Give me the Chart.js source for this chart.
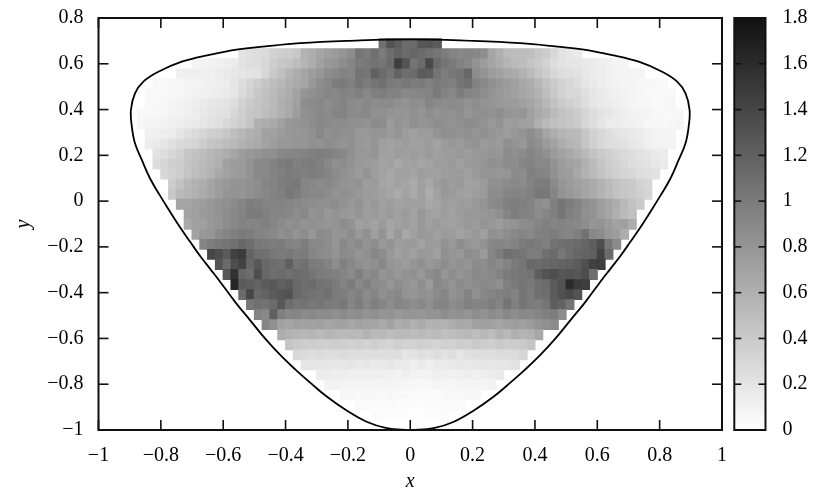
<!DOCTYPE html>
<html><head><meta charset="utf-8">
<style>html,body{margin:0;padding:0;background:#fff;overflow:hidden}
#wrap{position:relative;width:831px;height:496px}
canvas{position:absolute;top:0}</style>
<script src="https://cdn.jsdelivr.net/npm/chart.js@4"></script>
</head><body><div id="wrap"><canvas id="main" width="831" height="496" style="left:0"></canvas><canvas id="bar" width="106" height="496" style="left:725px"></canvas></div>
<script>
// First occupied column of each row (column i spans x = -1+0.025i .. -1+0.025(i+1)); rows run top to bottom.
const rowStarts=[36,18,12,10,7,6,6,5,5,6,6,7,7,8,9,9,10,11,11,12,13,14,15,16,17,18,19,20,21,23,24,25,26,28,29,31,33,35];
const r00=[1.08,1.30,1.22,1.12,1.12,1.28,1.28,1.24];
const r01=[.22,.24,.26,.28,.34,.36,.38,.42,.58,.62,.68,.72,.76,.80,.86,1.04,1.00,1.09,1.00,1.10,1.18,1.12,1.16,1.12,1.08,1.04,.98,.92,.90,.92,.90,.86,.68,.60,.52,.49,.50,.49,.42,.38,.30,.22,.18,.15];
const r02=[.08,.09,.10,.11,.13,.15,.22,.24,.26,.30,.38,.42,.45,.50,.56,.62,.71,.78,.80,.86,.92,1.00,1.02,1.06,1.04,1.12,1.46,1.30,1.05,1.12,1.38,1.12,1.05,1.00,.94,.90,.82,.76,.68,.62,.56,.52,.50,.45,.40,.34,.26,.22,.20,.19,.17,.15,.13,.11,.09,.08];
const r03=[.11,.11,.12,.11,.11,.14,.17,.18,.20,.21,.22,.30,.41,.48,.56,.62,.68,.74,.79,.86,.90,.94,.92,1.05,1.04,1.20,1.12,1.05,1.18,1.10,1.12,1.24,1.22,1.05,.98,1.02,1.05,1.14,.86,.82,.75,.70,.66,.64,.58,.52,.44,.38,.30,.26,.24,.22,.18,.15,.13,.11,.10,.09,.08,.08];
const r04=[.05,.05,.06,.07,.08,.09,.09,.11,.13,.14,.20,.26,.32,.38,.44,.49,.54,.60,.64,.68,.78,.86,.90,.98,1.00,.96,1.04,.98,1.04,1.08,1.00,.98,1.02,.98,1.00,.96,1.00,.98,.96,1.04,1.08,.94,.90,.84,.80,.76,.72,.66,.62,.54,.46,.40,.34,.30,.26,.20,.17,.13,.11,.10,.08,.08,.07,.06,.05,.05];
const r05=[.05,.05,.05,.06,.07,.08,.10,.11,.12,.14,.16,.20,.28,.34,.42,.48,.52,.58,.62,.70,.80,.84,.88,.92,.90,.94,.92,.96,.90,.96,.98,.94,.94,.90,.90,.92,.94,1.00,.94,.90,.98,.92,.90,.86,.82,.78,.74,.71,.68,.64,.58,.49,.42,.34,.30,.30,.24,.19,.16,.13,.11,.10,.08,.07,.05,.05,.05,.05];
const r06=[.05,.05,.07,.08,.10,.11,.13,.15,.18,.20,.22,.26,.34,.40,.45,.48,.52,.60,.64,.72,.86,.88,.90,.86,.90,.94,.88,.86,.90,.86,.88,.88,.84,.82,.86,.84,.92,.88,.86,.88,.86,.82,.86,.82,.80,.78,.76,.75,.72,.68,.62,.54,.46,.40,.36,.32,.26,.20,.17,.15,.12,.10,.08,.07,.06,.05,.05,.06];
const r07=[.05,.05,.06,.07,.09,.10,.12,.14,.17,.20,.22,.23,.30,.36,.42,.45,.50,.54,.60,.64,.74,.84,.86,.90,.88,.92,.94,.88,.88,.90,.84,.84,.80,.80,.80,.84,.80,.86,.82,.84,.84,.86,.80,.84,.85,.82,.86,.80,.78,.80,.72,.64,.60,.52,.46,.42,.38,.32,.26,.22,.19,.15,.12,.10,.09,.08,.06,.05,.05,.06];
const r08=[.07,.08,.09,.10,.11,.13,.15,.17,.19,.22,.24,.30,.34,.38,.44,.60,.62,.64,.72,.79,.80,.82,.86,.90,.88,.86,.86,.84,.84,.82,.88,.86,.76,.82,.78,.84,.80,.82,.86,.84,.82,.84,.86,.86,.82,.78,.82,.74,.75,.72,.71,.60,.52,.48,.45,.42,.40,.32,.26,.20,.15,.14,.12,.11,.10,.07,.06,.06,.07,.08];
const r09=[.11,.11,.13,.15,.20,.24,.27,.32,.36,.38,.42,.49,.54,.60,.62,.71,.72,.75,.78,.79,.80,.84,.90,.84,.86,.84,.84,.78,.78,.80,.80,.76,.80,.74,.72,.76,.74,.80,.84,.84,.82,.84,.80,.84,.80,.78,.74,.79,.82,.86,.80,.68,.62,.56,.54,.52,.44,.34,.30,.26,.22,.19,.17,.14,.11,.09,.08,.08];
const r10=[.14,.15,.20,.24,.28,.30,.32,.38,.44,.46,.50,.54,.58,.62,.64,.70,.74,.78,.78,.80,.80,.84,.82,.86,.84,.82,.84,.78,.76,.80,.72,.70,.72,.74,.72,.72,.74,.70,.76,.78,.76,.80,.82,.76,.78,.76,.84,.82,.78,.88,.84,.76,.70,.62,.56,.54,.44,.36,.30,.26,.24,.22,.18,.16,.12,.10,.09,.09];
const r11=[.22,.26,.30,.34,.42,.46,.50,.54,.58,.62,.68,.74,.78,.80,.84,.84,.90,.92,.92,.94,.96,.98,.96,.92,.90,.84,.78,.78,.80,.72,.70,.74,.72,.74,.72,.76,.72,.74,.74,.78,.74,.78,.78,.80,.78,.88,.84,.88,.92,.88,.84,.76,.70,.66,.60,.54,.46,.40,.36,.32,.28,.26,.22,.20,.16,.14];
const r12=[.26,.32,.36,.38,.45,.48,.52,.56,.60,.72,.74,.76,.82,.90,.90,.94,.98,1.01,.96,.98,1.00,.96,.90,.84,.86,.82,.78,.76,.74,.70,.72,.66,.70,.72,.68,.70,.74,.74,.76,.72,.76,.78,.80,.84,.82,.86,.86,.92,.94,.90,.90,.82,.76,.70,.68,.60,.52,.44,.38,.34,.30,.26,.24,.22,.18,.16];
const r13=[.30,.34,.38,.45,.50,.54,.58,.66,.70,.74,.76,.82,.90,.90,.94,.96,1.00,.98,.96,.98,.96,.92,.88,.84,.80,.76,.82,.74,.70,.66,.72,.72,.68,.74,.72,.70,.74,.74,.76,.72,.76,.80,.80,.78,.80,.88,.86,.96,.94,.92,.84,.76,.74,.66,.58,.52,.46,.40,.36,.32,.30,.26,.24,.22];
const r14=[.38,.46,.54,.58,.62,.68,.74,.78,.80,.82,.84,.86,.92,.94,.98,1.00,1.02,.92,.90,.88,.90,.86,.82,.80,.82,.74,.76,.68,.66,.70,.68,.64,.72,.66,.74,.78,.74,.76,.70,.72,.76,.84,.84,.88,.90,.88,.94,.98,1.00,.88,.80,.76,.72,.68,.64,.58,.52,.46,.42,.40,.34,.30];
const r15=[.42,.52,.56,.60,.64,.68,.74,.80,.82,.80,.84,.88,.90,.94,.96,1.02,.98,.92,.90,.90,.86,.82,.84,.82,.78,.76,.74,.72,.68,.64,.70,.64,.72,.62,.70,.78,.76,.72,.70,.74,.76,.86,.86,.92,.94,.92,.96,1.02,1.02,.92,.82,.78,.74,.68,.64,.58,.52,.46,.42,.40,.36,.32];
const r16=[.68,.68,.72,.74,.78,.82,.84,.88,.92,.98,.96,.94,.94,.94,.92,.90,.88,.86,.84,.84,.86,.82,.78,.82,.74,.78,.72,.74,.70,.72,.72,.72,.66,.68,.74,.72,.76,.74,.78,.82,.88,.90,.96,.98,.96,.94,.86,.84,.96,1.04,.98,.94,.86,.82,.74,.68,.62,.54,.46,.40];
const r17=[.70,.72,.76,.78,.82,.86,.90,.94,1.00,1.00,.96,.92,.92,.90,.86,.90,.82,.84,.78,.82,.78,.76,.80,.74,.76,.72,.76,.72,.76,.70,.78,.72,.70,.74,.70,.74,.78,.78,.78,.80,.84,.92,.98,.94,.94,.88,.92,.96,1.04,.96,.92,.84,.82,.74,.68,.60,.52,.48];
const r18=[.64,.72,.72,.78,.80,.86,.90,.94,.92,.92,.96,.92,.88,.84,.86,.82,.84,.82,.80,.82,.86,.82,.72,.74,.70,.76,.68,.72,.74,.70,.78,.72,.76,.72,.70,.74,.78,.76,.80,.78,.74,.80,.82,.86,.88,.92,.96,.92,.94,.92,.90,.86,.80,.82,.76,.70,.72,.62];
const r19=[.70,.78,.80,.88,.92,.96,1.00,.98,.94,.92,.90,.84,.88,.82,.86,.78,.88,.86,.80,.82,.86,.78,.84,.72,.82,.68,.78,.66,.72,.78,.76,.72,.76,.74,.70,.74,.78,.72,.84,.82,.86,.90,.92,.90,.96,.96,.98,.94,.92,.96,1.06,.90,.86,.78,.74,.62];
const r20=[.92,.98,1.02,1.04,1.08,1.14,1.10,1.02,1.00,.98,1.00,.94,.92,.98,.90,.90,.86,.80,.90,.84,.88,.82,.86,.78,.82,.74,.76,.76,.70,.76,.74,.82,.78,.86,.80,.78,.82,.90,.92,.90,.94,1.00,1.02,1.00,.96,1.06,1.08,1.10,1.12,1.16,1.22,1.34,1.02,.88];
const r21=[1.40,1.34,1.24,1.44,1.48,1.18,1.10,1.08,1.02,1.00,1.02,.98,1.00,.92,.88,.86,.82,.88,.86,.80,.84,.90,.86,.78,.72,.76,.72,.78,.76,.72,.84,.80,.78,.86,.84,.76,.92,.98,1.08,1.06,1.04,.98,1.00,1.08,1.12,1.02,1.10,1.16,1.18,1.20,1.42,1.12];
const r22=[1.30,1.12,1.34,1.42,1.16,1.26,1.14,1.10,1.08,1.20,1.04,1.08,1.00,.98,.94,.86,.96,.90,.84,.82,.84,.90,.80,.78,.74,.80,.84,.78,.82,.86,.80,.84,.80,.88,.86,.92,.88,.94,1.00,1.04,1.14,1.12,1.14,1.16,1.18,1.20,1.24,1.32,1.44,1.46];
const r23=[1.28,1.56,1.16,1.10,1.34,1.14,1.10,1.12,1.08,1.12,1.10,1.04,1.00,.98,.96,.92,.88,.96,.86,.90,.80,.84,.78,.82,.84,.78,.86,.90,.80,.86,.80,.84,.90,.86,.90,.94,1.00,1.02,1.04,1.06,1.22,1.30,1.34,1.28,1.30,1.28,1.34,1.10];
const r24=[1.64,1.24,1.22,1.18,1.24,1.26,1.20,1.24,1.14,1.10,1.12,1.06,1.04,1.00,.94,1.00,.90,.96,.88,.86,.80,.86,.82,.78,.86,.76,.90,.86,.82,.88,.84,.86,.90,.88,.84,.96,1.00,1.04,1.02,1.08,1.12,1.24,1.30,1.60,1.48,1.46];
const r25=[1.12,1.40,1.14,1.18,1.24,1.28,1.30,1.14,1.10,1.06,1.04,1.08,1.00,.98,.92,.96,.88,.92,.84,.88,.90,.82,.80,.84,.82,.88,.92,.82,.86,.94,.84,.90,.92,.96,.98,.94,1.04,1.00,1.08,1.10,1.24,1.32,1.38,1.30];
const r26=[1.02,1.08,1.06,1.12,1.26,1.10,1.04,1.06,1.02,1.04,1.00,.98,1.02,.92,.98,.90,.96,.92,.86,.92,.90,.86,.90,.84,.92,.94,.86,.90,.96,.92,.94,.98,.92,1.06,.96,1.04,1.00,.98,1.04,1.22,1.18,1.04];
const r27=[.94,.90,1.20,.96,.90,.92,.88,.90,.86,.88,.84,.88,.84,.86,.82,.84,.80,.82,.78,.80,.80,.78,.82,.80,.86,.82,.84,.80,.86,.82,.88,.84,.90,.86,.90,.88,.92,.96,.98,.86];
const r28=[.92,.84,.70,.68,.72,.70,.70,.72,.68,.70,.70,.66,.70,.68,.68,.64,.70,.62,.64,.60,.64,.58,.60,.58,.62,.66,.64,.70,.72,.72,.68,.72,.74,.72,.76,.80,.84,.88];
const r29=[.62,.58,.56,.54,.56,.52,.56,.54,.52,.54,.52,.58,.52,.54,.50,.52,.52,.50,.52,.50,.52,.48,.50,.52,.54,.50,.54,.50,.58,.52,.60,.56,.58,.66];
const r30=[.44,.40,.38,.38,.36,.36,.38,.36,.34,.36,.34,.36,.34,.32,.36,.34,.34,.36,.34,.32,.36,.34,.38,.36,.40,.38,.36,.40,.38,.38,.40,.44];
const r31=[.30,.28,.26,.28,.26,.26,.27,.25,.26,.24,.26,.24,.25,.26,.20,.22,.24,.22,.26,.22,.26,.20,.24,.25,.26,.24,.27,.26,.28,.32];
const r32=[.20,.20,.19,.19,.18,.18,.20,.17,.18,.16,.17,.18,.15,.16,.12,.16,.13,.16,.15,.17,.18,.17,.18,.19,.18,.20,.20,.22];
const r33=[.14,.14,.13,.14,.12,.13,.12,.11,.12,.11,.10,.12,.10,.09,.10,.12,.11,.10,.12,.13,.12,.13,.14,.15];
const r34=[.09,.09,.08,.09,.08,.09,.08,.08,.09,.08,.07,.06,.06,.07,.08,.07,.07,.08,.08,.09,.08,.10];
const r35=[.06,.06,.05,.06,.06,.05,.06,.05,.05,.04,.04,.03,.04,.05,.05,.05,.06,.06];
const r36=[.04,.04,.03,.04,.04,.03,.03,.03,.02,.03,.03,.04,.04,.04];
const r37=[.03,.02,.02,.02,.02,.01,.01,.02,.02,.03];
const rows=[r00,r01,r02,r03,r04,r05,r06,r07,r08,r09,r10,r11,r12,r13,r14,r15,r16,r17,r18,r19,r20,r21,r22,r23,r24,r25,r26,r27,r28,r29,r30,r31,r32,r33,r34,r35,r36,r37];
const curveLeftX=[0,-.0755,-.14,-.204,-.268,-.322,-.37,-.418,-.466,-.514,-.562,-.61,-.642,-.674,-.706,-.739,-.771,-.803,-.835,-.861,-.883,-.893,-.896,-.883,-.856,-.808,-.733,-.648,-.552,-.472,-.354,-.204,0];
const curveLeftY=[-1,-.992,-.964,-.915,-.854,-.792,-.734,-.671,-.6,-.52,-.44,-.352,-.296,-.24,-.178,-.113,-.045,.025,.1,.18,.253,.325,.398,.471,.522,.565,.609,.638,.663,.675,.69,.70,.707];
const curveRightX=[.204,.354,.472,.552,.648,.733,.808,.856,.883,.896,.893,.883,.861,.835,.803,.771,.739,.706,.674,.642,.61,.562,.514,.466,.418,.37,.322,.268,.204,.14,.0755,0];
const curveRightY=[.70,.69,.675,.663,.638,.609,.565,.522,.471,.398,.325,.253,.18,.1,.025,-.045,-.113,-.178,-.24,-.296,-.352,-.44,-.52,-.6,-.671,-.734,-.792,-.854,-.915,-.964,-.992,-1];
const axisMinX=-1,axisMaxX=1,axisMinY=-1,axisMaxY=.8,tickStep=.2,zMax=1.8,cellW=.025,cellH=1.71/39,topEdge=.71;
const FONT='"Liberation Serif","Times New Roman",serif';
const gray=v=>{const g=Math.round(255-Math.min(v,zMax)/zMax*238);return `rgb(${g},${g},${g})`;};
const fmt=v=>{const r=Math.round(v*10)/10;return (r<0?'\u2212':'')+String(Math.abs(r));};

const cells=[],colors=[];
rows.forEach((row,k)=>row.forEach((v,j)=>{
  const i=rowStarts[k]+j,hi=topEdge-k*cellH;
  cells.push({x:axisMinX+cellW*(i+.5),y:[hi-cellH-.0006,hi]});colors.push(gray(v));
}));
const curveX=curveLeftX.concat(curveRightX),curveY=curveLeftY.concat(curveRightY);
const outline=curveX.map((x,i)=>({x,y:curveY[i]}));

function inner(ctx,x1,y1,x2,y2){ctx.beginPath();ctx.moveTo(x1,y1);ctx.lineTo(x2,y2);ctx.stroke();}
const frame={id:'frame',afterDraw(c){
  const a=c.chartArea,ctx=c.ctx,L=c.options.plugins.frame.len;
  ctx.save();ctx.strokeStyle='#111';ctx.lineWidth=1.6;
  const xs=c.scales.x,ys=c.scales.y;
  if(xs.options.display){xs.ticks.forEach(t=>{const p=xs.getPixelForValue(t.value);
    inner(ctx,p,a.bottom,p,a.bottom-L);inner(ctx,p,a.top,p,a.top+L);});}
  ys.ticks.forEach(t=>{const p=ys.getPixelForValue(t.value);
    inner(ctx,a.left,p,a.left+L,p);inner(ctx,a.right,p,a.right-L,p);});
  ctx.lineWidth=2;ctx.strokeRect(a.left,a.top,a.right-a.left,a.bottom-a.top);
  ctx.restore();
}};
const tickFont={family:FONT,size:20};
const noPad=s=>{s.paddingTop=0;s.paddingBottom=0;s.paddingLeft=0;s.paddingRight=0;};
new Chart(document.getElementById('main'),{
  type:'bar',
  data:{datasets:[
    {type:'line',data:outline,borderColor:'#000',borderWidth:1.8,pointRadius:0,tension:.4,order:0,fill:false},
    {data:cells,backgroundColor:colors,borderWidth:0,borderSkipped:false,barThickness:8.2,grouped:false,order:1}
  ]},
  plugins:[frame],
  options:{responsive:false,animation:false,events:[],
    layout:{padding:{left:0,right:109,top:18,bottom:0}},
    plugins:{legend:{display:false},tooltip:{enabled:false},frame:{len:10}},
    scales:{
      x:{type:'linear',min:axisMinX,max:axisMaxX,offset:false,
        grid:{display:false,drawTicks:false},border:{display:false},
        ticks:{stepSize:tickStep,autoSkip:false,maxRotation:0,padding:14,color:'#000',font:tickFont,callback:fmt},
        title:{display:true,text:'x',color:'#000',font:{family:FONT,size:20,style:'italic'},padding:{top:0,bottom:2}},
        afterFit(s){noPad(s);s.height=66;}},
      y:{type:'linear',min:axisMinY,max:axisMaxY,
        grid:{display:false,drawTicks:false},border:{display:false},
        ticks:{stepSize:tickStep,autoSkip:false,padding:15,color:'#000',font:tickFont,callback:fmt},
        title:{display:true,text:'y',color:'#000',font:{family:FONT,size:20,style:'italic'},padding:{top:12,bottom:0}},
        afterFit(s){noPad(s);s.width=98.5;}}
    }}
});
const rampLow=[0],rampHigh=[zMax];
new Chart(document.getElementById('bar'),{
  type:'bar',
  data:{datasets:[{data:rampLow.map((l,i)=>({x:.5,y:[l,rampHigh[i]]})),
    backgroundColor(ctx){const c=ctx.chart,a=c.chartArea;if(!a)return '#888';
      const g=c.ctx.createLinearGradient(0,a.bottom,0,a.top);g.addColorStop(0,gray(0));g.addColorStop(1,gray(zMax));return g;},
    borderWidth:0,borderSkipped:false,barThickness:32,grouped:false}]},
  plugins:[frame],
  options:{responsive:false,animation:false,events:[],
    layout:{padding:{left:9.3,right:0,top:18,bottom:66}},
    plugins:{legend:{display:false},tooltip:{enabled:false},frame:{len:7}},
    scales:{
      x:{type:'linear',min:0,max:1,display:false},
      y:{type:'linear',position:'right',min:0,max:zMax,
        grid:{display:false,drawTicks:false},border:{display:false},
        ticks:{stepSize:tickStep,autoSkip:false,padding:17,color:'#000',font:tickFont,callback:fmt},
        afterFit(s){noPad(s);s.width=65.5;}}
    }}
});
</script></body></html>
